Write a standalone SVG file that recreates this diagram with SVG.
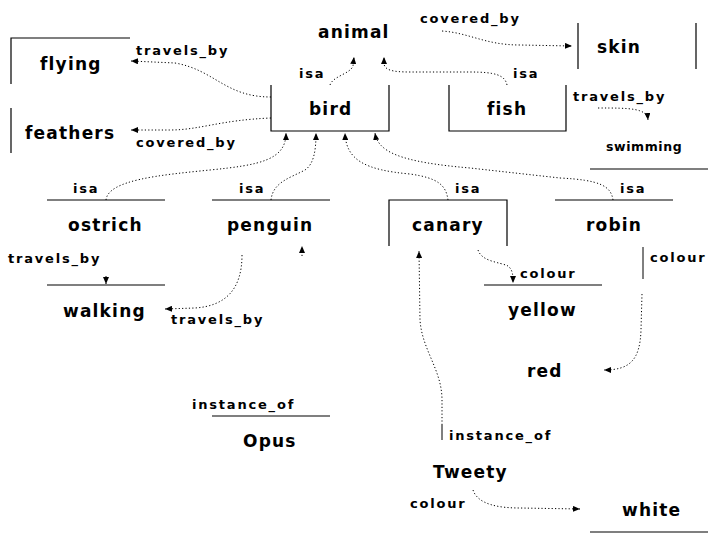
<svg xmlns="http://www.w3.org/2000/svg" width="720" height="540" viewBox="0 0 720 540">
<style>
.bg{fill:#fff}
.n{font-family:"DejaVu Sans","Liberation Sans",Arial,sans-serif;font-weight:bold;font-size:17px;letter-spacing:1.2px;fill:#000}
.s{font-size:12.5px;letter-spacing:0.6px}
.l{font-family:"DejaVu Sans","Liberation Sans",Arial,sans-serif;font-weight:bold;font-size:13px;letter-spacing:1.8px;fill:#000}
.b{fill:none;stroke:#000;stroke-width:1.2}
.c{fill:none;stroke:#000;stroke-width:1;stroke-dasharray:1.2 2.2}
.cs{fill:none;stroke:#000;stroke-width:1}
</style>
<defs>
<marker id="ah" viewBox="0 0 7 6" refX="7" refY="3" markerWidth="7" markerHeight="6" markerUnits="userSpaceOnUse" orient="auto">
<path d="M0,0 L7,3 L0,6 z" fill="#000"/>
</marker>
</defs>
<rect class="bg" x="0" y="0" width="720" height="540"/>

<g id="flying"><path class="b" d="M11,84 L11,38 L130,38"/><text class="n" x="40" y="70">flying</text></g>
<g id="feathers"><path class="b" d="M11,108 L11,153"/><text class="n" x="25" y="139">feathers</text></g>
<g id="animal"><text class="n" x="318" y="38">animal</text></g>
<g id="bird"><path class="b" d="M271,85 L271,131 L389,131 L389,85"/><text class="n" x="309" y="115">bird</text></g>
<g id="fish"><path class="b" d="M449,85 L449,131 L566,131 L566,85"/><text class="n" x="487" y="115">fish</text></g>
<g id="skin"><path class="b" d="M578,23 L578,69 M696,23 L696,69"/><text class="n" x="597" y="53">skin</text></g>
<g id="swimming"><path class="b" d="M590,169 L708,169"/><text class="n s" x="606" y="151">swimming</text></g>
<g id="ostrich"><path class="b" d="M47,200 L165,200"/><text class="n" x="68" y="231">ostrich</text></g>
<g id="penguin"><path class="b" d="M212,200 L330,200"/><text class="n" x="227" y="231">penguin</text></g>
<g id="canary"><path class="b" d="M389,246 L389,200 L507,200 L507,246"/><text class="n" x="412" y="231">canary</text></g>
<g id="robin"><path class="b" d="M555,200 L673,200"/><text class="n" x="586" y="231">robin</text></g>
<g id="walking"><path class="b" d="M47,285 L165,285"/><text class="n" x="63" y="317">walking</text></g>
<g id="yellow"><path class="b" d="M484,285 L602,285"/><text class="n" x="508" y="316">yellow</text></g>
<g id="red"><text class="n" x="527" y="377">red</text></g>
<g id="opus"><path class="b" d="M212,416 L330,416"/><text class="n" x="243" y="447">Opus</text></g>
<g id="tweety"><text class="n" x="433" y="478">Tweety</text></g>
<g id="white"><path class="b" d="M590,532 L708,532"/><text class="n" x="622" y="516">white</text></g>

<g id="connectors">
<path class="c" d="M330,85 C333,76 350,74 353,66 L354,57" marker-end="url(#ah)"/>
<path class="c" d="M507,85 C505,75 495,72 470,72 L410,72 C392,72 385,70 384,64 L384,57" marker-end="url(#ah)"/>
<path class="c" d="M271,97 C225,97 215,70 175,63 L131,61" marker-end="url(#ah)"/>
<path class="c" d="M271,118 C220,120 200,130 170,130 L131,130" marker-end="url(#ah)"/>
<path class="c" d="M442,31 C470,33 485,45 520,45 L572,46" marker-end="url(#ah)"/>
<path class="c" d="M598,108 C630,108 647,108 648,120" marker-end="url(#ah)"/>
<path class="c" d="M106,200 C108,180 160,175 210,170 C260,165 286,160 286,133" marker-end="url(#ah)"/>
<path class="c" d="M271,200 C273,182 290,178 305,170 C314,164 316,150 316,133" marker-end="url(#ah)"/>
<path class="c" d="M448,200 C446,185 438,178 410,174 C365,170 346,160 345,133" marker-end="url(#ah)"/>
<path class="c" d="M613,200 C611,186 600,180 560,178 L470,168 C400,162 378,152 375,133" marker-end="url(#ah)"/>
<path class="c" d="M106,276 L106,284" marker-end="url(#ah)"/>
<path class="c" d="M242,255 C242,290 225,306 195,308 L165,309" marker-end="url(#ah)"/>
<path class="c" d="M302,256 L302,246" marker-end="url(#ah)"/>
<path class="c" d="M478,250 C482,262 500,262 508,266 C513,270 513,276 513,283" marker-end="url(#ah)"/>
<path class="cs" d="M643,247 L643,279"/>
<path class="c" d="M642,294 L641,330 C640,360 630,370 604,370" marker-end="url(#ah)"/>
<path class="cs" d="M442,440 L442,425"/>
<path class="c" d="M442,425 L442,400 C442,370 422,350 420,320 L419,251" marker-end="url(#ah)"/>
<path class="c" d="M473,490 C478,505 500,508 520,508 L580,509" marker-end="url(#ah)"/>
</g>

<g id="labels">
<text class="l" x="136" y="55">travels_by</text>
<text class="l" x="136" y="147">covered_by</text>
<text class="l" x="420" y="23">covered_by</text>
<text class="l" x="299" y="78">isa</text>
<text class="l" x="513" y="78">isa</text>
<text class="l" x="573" y="101">travels_by</text>
<text class="l" x="73" y="193">isa</text>
<text class="l" x="239" y="193">isa</text>
<text class="l" x="455" y="193">isa</text>
<text class="l" x="620" y="193">isa</text>
<text class="l" x="8" y="263">travels_by</text>
<text class="l" x="171" y="324">travels_by</text>
<text class="l" x="520" y="278">colour</text>
<text class="l" x="650" y="262">colour</text>
<text class="l" x="192" y="409">instance_of</text>
<text class="l" x="449" y="440">instance_of</text>
<text class="l" x="410" y="508">colour</text>
</g>
</svg>
